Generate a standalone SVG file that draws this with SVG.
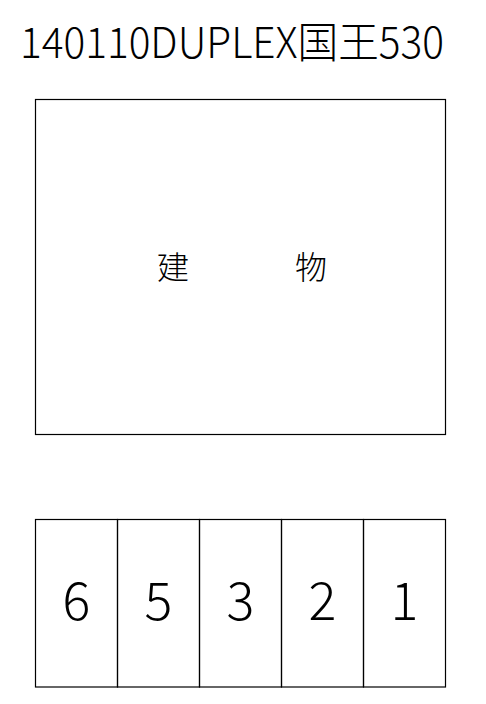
<svg xmlns="http://www.w3.org/2000/svg" width="486" height="704" viewBox="0 0 486 704">
<style>
.box{fill:none;stroke:#000;stroke-width:1.2}
.t{font-family:"Noto Sans CJK JP","Liberation Sans",sans-serif;font-weight:300;fill:#000}
.n{font-size:52px;text-anchor:middle}
.b{font-size:32px;text-anchor:middle}
</style>
<rect width="486" height="704" fill="#fff"/>
<text class="t" x="20" y="58" font-size="43" textLength="424" lengthAdjust="spacingAndGlyphs">140110DUPLEX国王530</text>
<g id="building">
<rect class="box" x="35.5" y="99.5" width="410" height="335"/>
<text class="t b" x="173" y="279">建</text>
<text class="t b" x="311" y="279">物</text>
</g>
<g id="p6"><rect class="box" x="35.5" y="519.5" width="82" height="167.5"/><text class="t n" x="76.5" y="620">6</text></g>
<g id="p5"><rect class="box" x="117.5" y="519.5" width="82" height="167.5"/><text class="t n" x="158.5" y="620">5</text></g>
<g id="p3"><rect class="box" x="199.5" y="519.5" width="82" height="167.5"/><text class="t n" x="240.5" y="620">3</text></g>
<g id="p2"><rect class="box" x="281.5" y="519.5" width="82" height="167.5"/><text class="t n" x="322.5" y="620">2</text></g>
<g id="p1"><rect class="box" x="363.5" y="519.5" width="82" height="167.5"/><text class="t n" x="404.5" y="620">1</text></g>
<g id="connectors"/>
</svg>
